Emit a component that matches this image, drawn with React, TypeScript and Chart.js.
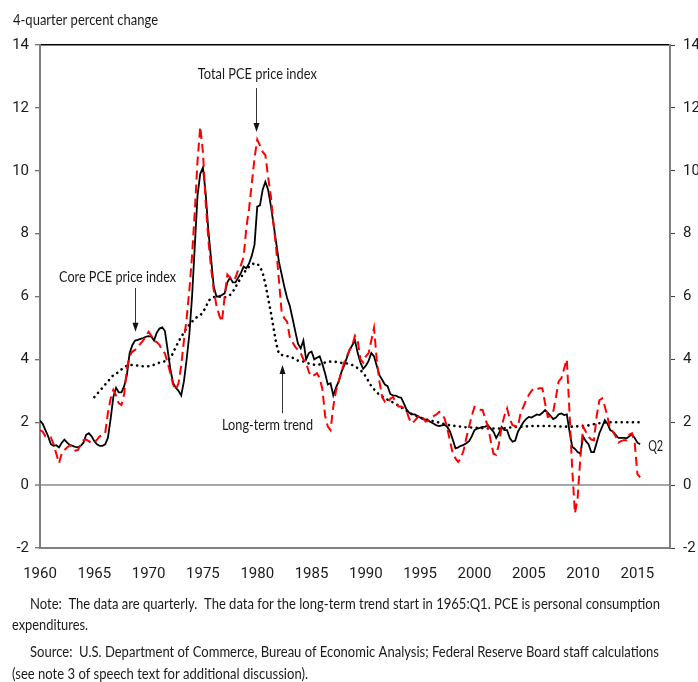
import React, { useEffect, useRef } from "react";
import { Chart, registerables } from "chart.js";

Chart.register(...registerables);

// ---------------- DATA ----------------
const START_YEAR = 1960; // 1960:Q1
const TREND_START_YEAR = 1965; // 1965:Q1
const xTickYears = [1960, 1965, 1970, 1975, 1980, 1985, 1990, 1995, 2000, 2005, 2010, 2015];
const yTickValues = [-2, 0, 2, 4, 6, 8, 10, 12, 14];

// Core PCE price index, 4-quarter percent change, 1960:Q1 - 2015:Q2
const corePCE = [
  2.05, 1.95, 1.75, 1.55, // 1960
  1.3, 1.25, 1.27, 1.2, // 1961
  1.35, 1.45, 1.35, 1.28, // 1962
  1.25, 1.22, 1.2, 1.25, // 1963
  1.35, 1.6, 1.65, 1.55, // 1964
  1.4, 1.3, 1.25, 1.25, // 1965
  1.3, 1.5, 2.1, 2.8, // 1966
  3.1, 2.95, 2.95, 3.15, // 1967
  3.5, 4.2, 4.45, 4.6, // 1968
  4.62, 4.65, 4.68, 4.72, // 1969
  4.74, 4.72, 4.6, 4.85, // 1970
  4.98, 5.02, 4.9, 4.3, // 1971
  3.7, 3.25, 3.1, 3.0, // 1972
  2.85, 3.3, 4.0, 4.8, // 1973
  6.0, 7.6, 9.2, 9.9, // 1974
  10.1, 9.3, 8.1, 7.2, // 1975
  6.3, 6.0, 6.0, 6.05, // 1976
  6.1, 6.45, 6.6, 6.45, // 1977
  6.45, 6.6, 6.75, 6.95, // 1978
  6.9, 7.05, 7.3, 7.65, // 1979
  8.86, 8.9, 9.4, 9.65, // 1980
  9.4, 8.9, 8.3, 7.7, // 1981
  7.1, 6.7, 6.3, 5.95, // 1982
  5.7, 5.3, 4.9, 4.5, // 1983
  4.35, 4.6, 4.0, 4.2, // 1984
  4.25, 4.0, 4.05, 4.1, // 1985
  3.85, 3.55, 3.2, 3.24, // 1986
  2.85, 3.1, 3.3, 3.6, // 1987
  3.8, 4.05, 4.3, 4.45, // 1988
  4.6, 4.2, 3.9, 3.7, // 1989
  3.8, 3.95, 4.2, 4.1, // 1990
  3.8, 3.5, 3.35, 3.2, // 1991
  3.15, 2.9, 2.85, 2.85, // 1992
  2.8, 2.78, 2.6, 2.4, // 1993
  2.3, 2.25, 2.25, 2.2, // 1994
  2.15, 2.1, 2.08, 2.05, // 1995
  2.0, 1.95, 1.9, 1.88, // 1996
  1.9, 1.92, 1.85, 1.7, // 1997
  1.45, 1.17, 1.2, 1.25, // 1998
  1.28, 1.33, 1.4, 1.55, // 1999
  1.75, 1.8, 1.82, 1.85, // 2000
  1.86, 1.9, 1.8, 1.7, // 2001
  1.5, 1.65, 1.85, 1.75, // 2002
  1.75, 1.5, 1.38, 1.42, // 2003
  1.7, 1.85, 2.0, 2.1, // 2004
  2.17, 2.15, 2.2, 2.25, // 2005
  2.23, 2.3, 2.39, 2.3, // 2006
  2.2, 2.1, 2.15, 2.25, // 2007
  2.28, 2.23, 2.25, 1.7, // 2008
  1.22, 1.15, 1.05, 1.0, // 2009
  1.55, 1.4, 1.3, 1.05, // 2010
  1.05, 1.35, 1.65, 1.85, // 2011
  2.07, 1.95, 1.75, 1.7, // 2012
  1.6, 1.5, 1.5, 1.5, // 2013
  1.49, 1.55, 1.62, 1.5, // 2014
  1.35, 1.3, // 2015
];

// Total PCE price index, 4-quarter percent change, 1960:Q1 - 2015:Q2
const totalPCE = [
  1.75, 1.7, 1.55, 1.5, // 1960
  1.52, 1.3, 1.0, 0.7, // 1961
  1.0, 1.12, 1.2, 1.27, // 1962
  1.2, 1.1, 1.12, 1.3, // 1963
  1.43, 1.45, 1.4, 1.33, // 1964
  1.35, 1.45, 1.55, 1.6, // 1965
  1.65, 2.3, 2.75, 3.03, // 1966
  2.85, 2.6, 2.55, 2.9, // 1967
  3.7, 4.1, 4.25, 4.3, // 1968
  4.4, 4.5, 4.6, 4.75, // 1969
  4.88, 4.75, 4.6, 4.55, // 1970
  4.46, 4.3, 4.19, 3.9, // 1971
  3.56, 3.2, 3.03, 3.24, // 1972
  3.8, 4.6, 5.3, 6.2, // 1973
  7.3, 8.7, 10.3, 11.4, // 1974
  10.6, 9.0, 7.8, 6.9, // 1975
  6.2, 5.7, 5.4, 5.2, // 1976
  6.0, 6.7, 6.6, 6.5, // 1977
  6.6, 6.85, 7.0, 7.27, // 1978
  8.2, 8.8, 9.6, 10.4, // 1979
  10.99, 10.8, 10.6, 10.5, // 1980
  9.8, 9.2, 8.3, 7.5, // 1981
  6.5, 5.5, 5.3, 5.2, // 1982
  4.7, 4.55, 4.4, 4.3, // 1983
  4.2, 4.0, 3.9, 3.6, // 1984
  3.45, 3.5, 3.56, 3.4, // 1985
  3.05, 2.2, 1.86, 1.75, // 1986
  2.5, 3.0, 3.3, 3.6, // 1987
  3.9, 4.1, 4.3, 4.45, // 1988
  4.75, 4.6, 4.0, 3.9, // 1989
  4.1, 4.2, 4.6, 5.0, // 1990
  4.0, 3.3, 2.8, 2.65, // 1991
  2.6, 2.75, 2.8, 2.65, // 1992
  2.5, 2.5, 2.45, 2.35, // 1993
  2.1, 1.96, 2.05, 2.15, // 1994
  2.23, 2.15, 2.02, 2.05, // 1995
  2.12, 2.2, 2.25, 2.33, // 1996
  2.25, 2.12, 1.8, 1.4, // 1997
  1.01, 0.85, 0.74, 0.85, // 1998
  1.11, 1.5, 1.86, 2.2, // 1999
  2.49, 2.45, 2.4, 2.39, // 2000
  2.1, 1.86, 1.4, 1.0, // 2001
  0.96, 1.3, 1.86, 2.2, // 2002
  2.44, 2.1, 1.91, 1.88, // 2003
  1.86, 2.3, 2.49, 2.7, // 2004
  2.87, 3.0, 3.08, 3.05, // 2005
  3.08, 3.08, 2.6, 2.17, // 2006
  2.2, 2.33, 2.8, 3.3, // 2007
  3.4, 3.7, 4.0, 2.3, // 2008
  0.5, -0.9, -0.4, 0.9, // 2009
  1.86, 1.7, 1.54, 1.45, // 2010
  1.43, 2.2, 2.7, 2.76, // 2011
  2.5, 2.17, 1.75, 1.7, // 2012
  1.55, 1.35, 1.4, 1.43, // 2013
  1.43, 1.6, 1.65, 1.35, // 2014
  0.35, 0.25, // 2015
];

// Long-term trend, 1965:Q1 - 2015:Q2
const longTermTrend = [
  2.8, 2.9, 3.0, 3.1, // 1965
  3.2, 3.3, 3.4, 3.5, // 1966
  3.55, 3.6, 3.68, 3.75, // 1967
  3.8, 3.82, 3.82, 3.82, // 1968
  3.8, 3.79, 3.78, 3.78, // 1969
  3.78, 3.8, 3.83, 3.86, // 1970
  3.9, 3.92, 3.94, 3.96, // 1971
  4.05, 4.2, 4.4, 4.55, // 1972
  4.72, 4.85, 5.0, 5.1, // 1973
  5.2, 5.3, 5.35, 5.4, // 1974
  5.5, 5.65, 5.85, 5.95, // 1975
  5.98, 6.0, 6.0, 5.98, // 1976
  5.97, 6.0, 6.05, 6.15, // 1977
  6.3, 6.45, 6.6, 6.75, // 1978
  6.85, 6.95, 7.02, 7.06, // 1979
  7.04, 6.95, 6.75, 6.4, // 1980
  5.95, 5.5, 5.0, 4.5, // 1981
  4.18, 4.14, 4.12, 4.1, // 1982
  4.09, 4.05, 4.0, 3.96, // 1983
  3.95, 3.93, 3.9, 3.87, // 1984
  3.85, 3.83, 3.82, 3.84, // 1985
  3.86, 3.9, 3.93, 3.93, // 1986
  3.93, 3.92, 3.9, 3.89, // 1987
  3.88, 3.87, 3.85, 3.82, // 1988
  3.78, 3.72, 3.65, 3.58, // 1989
  3.45, 3.3, 3.15, 3.05, // 1990
  2.95, 2.88, 2.82, 2.77, // 1991
  2.72, 2.67, 2.63, 2.58, // 1992
  2.53, 2.47, 2.42, 2.37, // 1993
  2.3, 2.26, 2.22, 2.18, // 1994
  2.15, 2.12, 2.1, 2.07, // 1995
  2.05, 2.03, 2.01, 1.99, // 1996
  1.96, 1.94, 1.92, 1.9, // 1997
  1.89, 1.88, 1.87, 1.86, // 1998
  1.85, 1.84, 1.84, 1.83, // 1999
  1.83, 1.82, 1.82, 1.81, // 2000
  1.81, 1.8, 1.8, 1.8, // 2001
  1.8, 1.8, 1.8, 1.81, // 2002
  1.82, 1.83, 1.84, 1.85, // 2003
  1.85, 1.86, 1.86, 1.87, // 2004
  1.87, 1.88, 1.88, 1.88, // 2005
  1.88, 1.88, 1.88, 1.88, // 2006
  1.88, 1.87, 1.87, 1.87, // 2007
  1.86, 1.86, 1.86, 1.86, // 2008
  1.86, 1.87, 1.87, 1.88, // 2009
  1.88, 1.89, 1.9, 1.92, // 2010
  1.94, 1.96, 1.97, 1.98, // 2011
  1.99, 2.0, 2.0, 2.0, // 2012
  2.0, 2.0, 2.0, 2.0, // 2013
  2.0, 2.0, 2.0, 2.0, // 2014
  2.0, 2.0, // 2015
];

const titleText = "4-quarter percent change";
const noteLines = [
  "Note:  The data are quarterly.  The data for the long-term trend start in 1965:Q1. PCE is personal consumption",
  "expenditures.",
  "Source:  U.S. Department of Commerce, Bureau of Economic Analysis; Federal Reserve Board staff calculations",
  "(see note 3 of speech text for additional discussion).",
];

// ---------------- HELPERS ----------------
const toPoints = (values: number[], startYear: number) =>
  values.map((v, i) => ({ x: startYear + i / 4, y: v }));

const TEXT_FONT = '15px Lato, "Open Sans", "DejaVu Sans", sans-serif';
const TEXT_COLOR = "#1b1b1b";

function fitText(ctx: CanvasRenderingContext2D, text: string, left: number, cy: number, width: number) {
  ctx.save();
  ctx.font = TEXT_FONT;
  ctx.fillStyle = TEXT_COLOR;
  ctx.textAlign = "left";
  ctx.textBaseline = "middle";
  const w = ctx.measureText(text).width;
  ctx.translate(left, cy);
  ctx.scale(width / w, 1);
  ctx.fillText(text, 0, 0);
  ctx.restore();
}

function arrow(ctx: CanvasRenderingContext2D, x: number, yFrom: number, yTo: number) {
  ctx.save();
  ctx.strokeStyle = "#333";
  ctx.fillStyle = "#111";
  ctx.lineWidth = 1;
  const dir = yTo > yFrom ? 1 : -1;
  ctx.beginPath();
  ctx.moveTo(x, yFrom);
  ctx.lineTo(x, yTo - dir * 7);
  ctx.stroke();
  ctx.beginPath();
  ctx.moveTo(x, yTo);
  ctx.lineTo(x - 3, yTo - dir * 9);
  ctx.lineTo(x + 3, yTo - dir * 9);
  ctx.closePath();
  ctx.fill();
  ctx.restore();
}

const annotationPlugin = {
  id: "annotations",
  afterDraw(chart: any) {
    const ctx: CanvasRenderingContext2D = chart.ctx;
    const xs = chart.scales.x;
    const ys = chart.scales.y;
    const X = (v: number) => xs.getPixelForValue(v);
    const Y = (v: number) => ys.getPixelForValue(v);

    fitText(ctx, titleText, 13, 20, 145);

    // Total PCE label + arrow
    fitText(ctx, "Total PCE price index", X(1980.05) - 60, Y(13.08), 119);
    arrow(ctx, Math.round(X(1979.9)) + 0.5, Y(12.63), Y(11.23));

    // Core PCE label + arrow
    fitText(ctx, "Core PCE price index", X(1967.14) - 58.5, Y(6.62), 117);
    arrow(ctx, Math.round(X(1968.78)) + 0.5, Y(6.27), Y(4.88));

    // Long-term trend label + arrow
    fitText(ctx, "Long-term trend", X(1980.95) - 45.5, Y(1.91), 91);
    arrow(ctx, Math.round(X(1982.26)) + 0.5, Y(2.29), Y(3.82));

    // Q2 label
    fitText(ctx, "Q2", X(2015.99), Y(1.25), 15);

    // Notes
    fitText(ctx, noteLines[0], 30, 604, 630);
    fitText(ctx, noteLines[1], 12, 625, 76);
    fitText(ctx, noteLines[2], 30, 652, 629);
    fitText(ctx, noteLines[3], 12, 674, 296);
  },
};

const AXIS_GRAY = "#7f7f7f";
const TICK_FONT = { family: '"Liberation Sans Narrow", Roboto, "DejaVu Sans", sans-serif', size: 15 };

export default function App() {
  const canvasRef = useRef<HTMLCanvasElement | null>(null);

  useEffect(() => {
    if (!canvasRef.current) return;
    const chart = new Chart(canvasRef.current, {
      type: "line",
      data: {
        datasets: [
          {
            label: "Total PCE price index",
            data: toPoints(totalPCE, START_YEAR),
            borderColor: "#ff0000",
            borderWidth: 2,
            borderDash: [9, 5],
            pointRadius: 0,
            tension: 0,
            fill: false,
          },
          {
            label: "Core PCE price index",
            data: toPoints(corePCE, START_YEAR),
            borderColor: "#000000",
            borderWidth: 1.8,
            pointRadius: 0,
            tension: 0,
            fill: false,
          },
          {
            label: "Long-term trend",
            data: toPoints(longTermTrend, TREND_START_YEAR),
            borderColor: "#000000",
            borderWidth: 2.6,
            borderDash: [0.1, 5.5],
            borderCapStyle: "round",
            pointRadius: 0,
            tension: 0,
            fill: false,
          },
        ],
      },
      options: {
        responsive: false,
        animation: false,
        devicePixelRatio: 1,
        layout: { padding: { top: 45, left: 0, right: 0, bottom: 0 } },
        plugins: {
          legend: { display: false },
          tooltip: { enabled: false },
        },
        scales: {
          x: {
            type: "linear",
            min: 1960,
            max: 2018,
            afterBuildTicks: (scale: any) => {
              scale.ticks = xTickYears.map((v) => ({ value: v }));
            },
            afterFit: (scale: any) => {
              scale.height = 682 - 548;
            },
            ticks: {
              font: TICK_FONT,
              color: "#1b1b1b",
              padding: 17,
              maxRotation: 0,
              autoSkip: false,
              callback: (v: any) => String(v),
            },
            grid: { drawOnChartArea: false, drawTicks: false },
            border: { display: true, color: AXIS_GRAY, width: 2 },
          },
          y: {
            type: "linear",
            position: "left",
            min: -2,
            max: 14,
            afterBuildTicks: (scale: any) => {
              scale.ticks = yTickValues.map((v) => ({ value: v }));
            },
            afterFit: (scale: any) => {
              scale.width = 40;
            },
            ticks: { font: TICK_FONT, color: "#1b1b1b", padding: 6 },
            grid: {
              drawOnChartArea: true,
              drawTicks: true,
              tickLength: 5,
              tickColor: "#444",
              tickWidth: 1,
              color: (c: any) =>
                c.tick && c.tick.value === 0 ? "#a6a6a6" : c.tick && c.tick.value === 14 ? "#000000" : "rgba(0,0,0,0)",
              lineWidth: (c: any) => (c.tick && c.tick.value === 0 ? 2 : 1.5),
            },
            border: { display: true, color: AXIS_GRAY, width: 2 },
          },
          y2: {
            type: "linear",
            position: "right",
            min: -2,
            max: 14,
            afterBuildTicks: (scale: any) => {
              scale.ticks = yTickValues.map((v) => ({ value: v }));
            },
            afterFit: (scale: any) => {
              scale.width = 28;
            },
            ticks: { font: TICK_FONT, color: "#1b1b1b", padding: 8 },
            grid: {
              drawOnChartArea: false,
              drawTicks: true,
              tickLength: 5,
              tickColor: "#444",
              tickWidth: 1,
            },
            border: { display: true, color: AXIS_GRAY, width: 2 },
          },
        },
      },
      plugins: [annotationPlugin],
    } as any);
    return () => chart.destroy();
  }, []);

  return (
    <div style={{ position: "absolute", left: 0, top: 0, width: 698, height: 682, background: "#fff" }}>
      <canvas ref={canvasRef} width={698} height={682} style={{ display: "block" }} />
    </div>
  );
}
